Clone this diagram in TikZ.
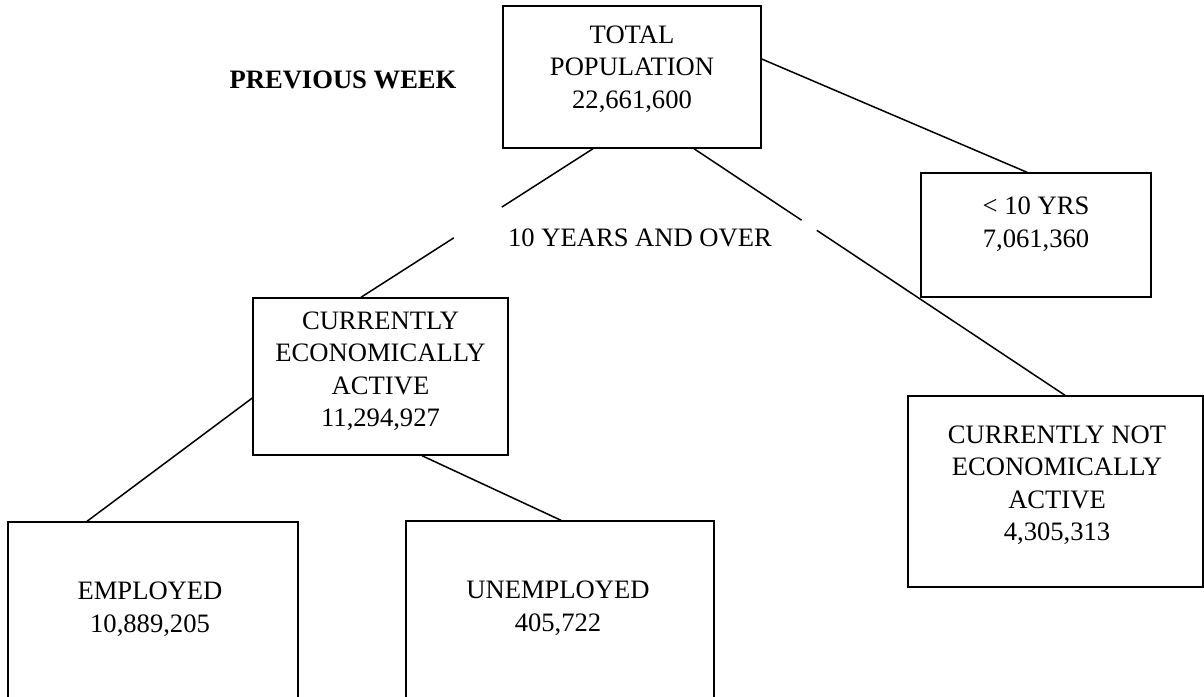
\documentclass[tikz,border=0pt]{standalone}
\usepackage{fontspec}
\setmainfont{Liberation Serif}
\usetikzlibrary{calc}
\begin{document}
\begin{tikzpicture}[x=1pt,y=-1pt,
  box/.style={draw, line width=1.4pt, inner sep=0pt},
  lbl/.style={font=\fontsize{26.6}{32.5}\selectfont, align=center, inner sep=0pt},
  boldlbl/.style={font=\fontsize{26.6}{32.5}\selectfont\bfseries, inner sep=0pt},
  conn/.style={line width=1.5pt}]
\useasboundingbox (0,0) rectangle (1204,696);
\clip (0,0) rectangle (1204,696);
% boxes
\node[box, minimum width=258pt, minimum height=142pt] (tot) at (632,77) {};
\node[box, minimum width=230pt, minimum height=124pt] (ten) at (1036,235) {};
\node[box, minimum width=255pt, minimum height=157pt] (cea) at (380.5,376.5) {};
\node[box, minimum width=295pt, minimum height=191pt] (cnea) at (1055.5,491.5) {};
\node[box, minimum width=290pt, minimum height=198pt] (emp) at (153,621) {};
\node[box, minimum width=308pt, minimum height=198pt] (un) at (560,620) {};
% texts
\node[lbl] (totT) at (632,69) {TOTAL\\POPULATION\\22,661,600};
\node[lbl] (tenT) at (1036,224) {< 10 YRS\\7,061,360};
\node[lbl] (ceaT) at (380.5,371) {CURRENTLY\\ECONOMICALLY\\ACTIVE\\11,294,927};
\node[lbl] (cneaT) at (1057,485) {CURRENTLY NOT\\ECONOMICALLY\\ACTIVE\\4,305,313};
\node[lbl] (empT) at (150,609) {EMPLOYED\\10,889,205};
\node[lbl] (unT) at (558,608) {UNEMPLOYED\\405,722};
\node[boldlbl] (prev) at (343,80) {PREVIOUS WEEK};
\node[lbl] (tenover) at (640,238) {10 YEARS AND OVER};
% connectors
\draw[conn] ([yshift=18pt]tot.east) -- ([xshift=-9pt]ten.north);
\coordinate (tA) at ([xshift=-39pt]tot.south);
\coordinate (cA) at ([xshift=-19.5pt]cea.north);
\draw[conn] (tA) -- ($(tA)!0.393!(cA)$);
\draw[conn] ($(tA)!0.6!(cA)$) -- (cA);
\coordinate (tB) at ([xshift=62pt]tot.south);
\coordinate (nB) at ([xshift=9.5pt]cnea.north);
\draw[conn] (tB) -- ($(tB)!0.29!(nB)$);
\draw[conn] ($(tB)!0.331!(nB)$) -- (nB);
\draw[conn] ([yshift=-21.5pt]cea.west) -- ([xshift=-66pt]emp.north);
\draw[conn] ([xshift=41.5pt]cea.south) -- ([xshift=1pt]un.north);
\end{tikzpicture}
\end{document}
